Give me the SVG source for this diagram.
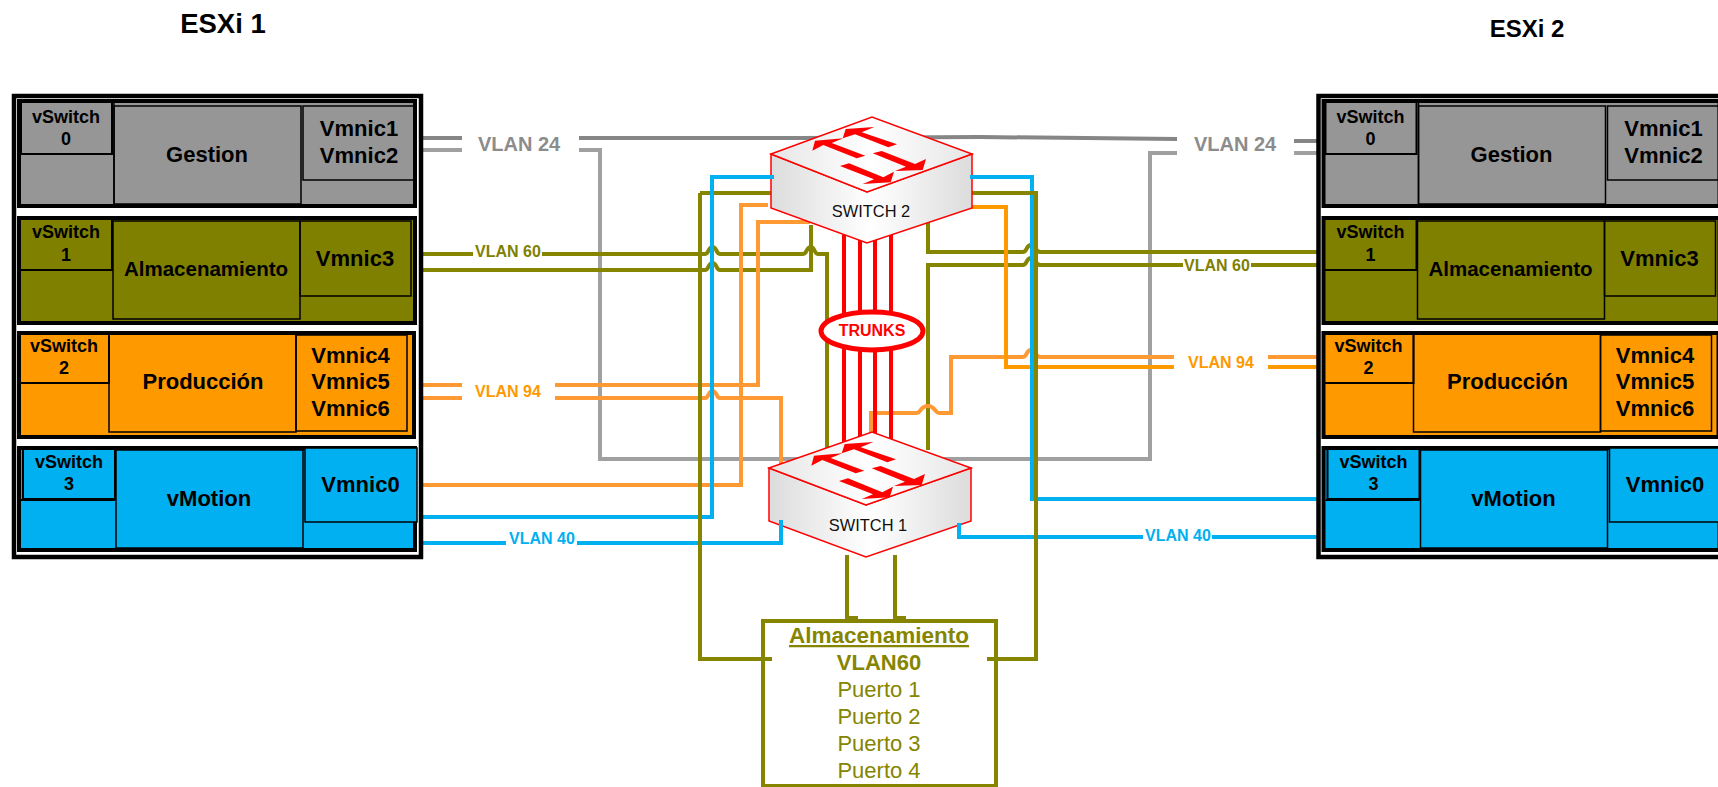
<svg xmlns="http://www.w3.org/2000/svg" width="1718" height="787" viewBox="0 0 1718 787">
<style>
text{font-family:"Liberation Sans",Arial,sans-serif;text-anchor:middle}
.b{font-weight:bold;fill:#000}
.vs{font-size:18px}
.t{font-size:22px}
.panel{fill:#fff;stroke:#000;stroke-width:4.5}
.row{stroke:#000;stroke-width:4}
.sub{stroke:#000;stroke-width:1.5;fill:none}
.vsb{stroke:#000;stroke-width:2;fill:none}
.gr{fill:#969696}.ol{fill:#808000}.or{fill:#ff9900}.bl{fill:#00b0f0}
.w{fill:none;stroke-width:4;stroke-linejoin:miter}
.g1{stroke:#868686}.g2{stroke:#a0a0a0}.o{stroke:#858500}.p1{stroke:#ff9933}.p2{stroke:#ff9900}.c{stroke:#00b0f0}.r{stroke:#ff0000}
.lb{font-weight:bold;font-size:16px}
.sw{fill:url(#body);stroke:#ff0000;stroke-width:1.5}
.swt{fill:url(#topg);stroke:#ff0000;stroke-width:1.5}
.swl{font-size:16.4px;fill:#111}
.st{fill:#858500}
</style>
<defs>
<linearGradient id="body" x1="0" x2="1" y1="0" y2="0"><stop offset="0" stop-color="#dcdcdc"/><stop offset=".5" stop-color="#ffffff"/><stop offset="1" stop-color="#dcdcdc"/></linearGradient>
<linearGradient id="topg" x1="0" x2="1" y1="0" y2="0"><stop offset="0" stop-color="#e6e6e6"/><stop offset=".5" stop-color="#ffffff"/><stop offset="1" stop-color="#e6e6e6"/></linearGradient>
<g id="arrows" fill="#ff0000">
<polygon points="845.700,129 874.300,127 861.700,132.300 897,144.300 888.300,147.300 855,134.300 842.700,138.300"/>
<polygon points="815,140.700 843.300,138.300 831.700,143 865.300,155.700 856.700,158.300 823.300,145 812.300,150.700"/>
<polygon points="872.700,153.300 881.700,151 915,164 926,159 922.700,170 895,171 906,166.700"/>
<polygon points="840,166 849,163.300 883.300,177.300 894,171.700 890.700,182.300 862.700,184 874,179.300"/>
</g>
</defs>

<g id="title-esxi1"><text class="b" x="223" y="33" font-size="27.5">ESXi 1</text></g>
<g id="title-esxi2"><text class="b" x="1527" y="37" font-size="24">ESXi 2</text></g>

<g id="connectors">
<g id="c-grey">
<path class="w g1" d="M423,138H462M579,138H800L980,137L1177,139M1294,141H1317"/>
<path class="w g2" d="M423,150H462M579,150H600V459H1150V153H1177M1294,153H1317"/>
</g>
<g id="c-olive">
<path class="w o" d="M423,254H473M542,254H705C709,254 708,247 712.5,247C717,247 716,254 720,254H803C807,254 806,247 811,247C815,247 814,254 818,254H827V450"/>
<path class="w o" d="M423,270H705C709,270 708,263 712.5,263C717,263 716,270 720,270H811V225"/>
<path class="w o" d="M928,222V252H1023C1027,252 1026,245 1031,245C1036,245 1035,252 1040,252H1317"/>
<path class="w o" d="M928,450V265H1023C1027,265 1026,258 1031,258C1036,258 1035,265 1040,265H1183M1251,265H1317"/>
<path class="w o" d="M700,193H772"/>
<path class="w o" d="M847,555V620M895,555V620M847,618H858M895,618H906"/>
</g>
<g id="c-orange">
<path class="w p1" d="M423,485H741V205H768"/>
<path class="w p1" d="M423,385H462M555,385H758V222H810"/>
<path class="w p1" d="M423,398H462M555,398H705C709,398 708,391 712.5,391C717,391 716,398 720,398H781V465"/>
<path class="w p1" d="M871,435V413H917C921,413 920,406 928,406C935,406 935,413 939,413H951V357H1023C1027,357 1026,350 1031,350C1036,350 1035,357 1040,357H1174M1268,357H1317"/>
<path class="w p2" d="M972,207H1006V367H1174M1268,367H1317"/>
</g>
<g id="c-blue">
<path class="w c" d="M423,517H712V177H772"/>
<path class="w c" d="M972,177H1032V499H1317"/>
<path class="w c" d="M423,543H506M577,543H781V535"/>
<path class="w c" d="M959,535V537H1143M1212,537H1317"/>
</g>
<g id="c-olive-over">
<path class="w o" d="M700,193V659H772"/>
<path class="w o" d="M972,193H1036V659H987"/>
</g>
<g id="c-trunks">
<path class="w r" d="M844,235V445M860,235V445M875,235V445M891,235V445"/>
</g>
<g id="c-labels">
<text class="lb" x="519" y="151" style="font-size:20px" fill="#8c8c8c">VLAN 24</text>
<text class="lb" x="1235" y="151" style="font-size:20px" fill="#8c8c8c">VLAN 24</text>
<text class="lb" x="508" y="257" fill="#808000">VLAN 60</text>
<text class="lb" x="1217" y="271" fill="#808000">VLAN 60</text>
<text class="lb" x="508" y="397" fill="#ff9900">VLAN 94</text>
<text class="lb" x="1221" y="368" fill="#ff9900">VLAN 94</text>
<text class="lb" x="542" y="544" fill="#00b0f0">VLAN 40</text>
<text class="lb" x="1178" y="541" fill="#00b0f0">VLAN 40</text>
</g>
</g>

<g id="trunks">
<ellipse cx="872" cy="331" rx="51" ry="19" fill="#fff" stroke="#ff0000" stroke-width="5"/>
<text class="lb" x="872" y="336" fill="#ff0000">TRUNKS</text>
</g>

<g id="switch2">
<polygon class="sw" points="771,154 771,208 867,243 972,208 972,154 867,192"/>
<polygon class="swt" points="771,154 872,117 972,154 867,192"/>
<use href="#arrows"/>
<text class="swl" x="871" y="217">SWITCH 2</text>
</g>
<g id="switch1">
<polygon class="sw" points="769,468 769,521 866,557 971,521 971,468 866,505"/>
<polygon class="swt" points="769,468 872,432 971,468 866,505"/>
<use href="#arrows" transform="translate(-1,315)"/>
<text class="swl" x="868" y="531">SWITCH 1</text>
</g>

<g id="connectors-over-switches">
<path class="w c" d="M781,535V520M959,535V523"/>
<path class="w c" d="M764,177H774M970,177H980"/>
</g>

<g id="storage">
<rect x="763" y="621" width="233" height="165" fill="none" stroke="#858500" stroke-width="4"/>
<text class="st" x="879" y="643" font-size="22.5" font-weight="bold" text-decoration="underline">Almacenamiento</text>
<text class="st" x="879" y="670" font-size="22" font-weight="bold">VLAN60</text>
<text class="st" x="879" y="697" font-size="22">Puerto 1</text>
<text class="st" x="879" y="724" font-size="22">Puerto 2</text>
<text class="st" x="879" y="751" font-size="22">Puerto 3</text>
<text class="st" x="879" y="778" font-size="22">Puerto 4</text>
</g>

<g id="esxi1">
<rect class="panel" x="14" y="96" width="407" height="461"/>
<g id="esxi1-gestion">
<rect class="row gr" x="19" y="101" width="396" height="105"/>
<rect class="vsb" x="21" y="101" width="91" height="53"/>
<rect class="sub" x="114" y="106" width="187" height="98"/>
<path class="sub" d="M114,101V206M301,204V206"/>
<rect class="sub" x="303" y="106" width="111" height="74"/>
<text class="b vs" x="66" y="123">vSwitch</text><text class="b vs" x="66" y="145">0</text>
<text class="b t" x="207" y="162">Gestion</text>
<text class="b t" x="359" y="136">Vmnic1</text><text class="b t" x="359" y="163">Vmnic2</text>
</g>
<g id="esxi1-almacenamiento">
<rect class="row ol" x="19" y="218" width="396" height="105"/>
<path class="vsb" d="M20,270H112V219"/>
<rect class="sub" x="113" y="221" width="187" height="98"/>
<rect class="sub" x="300" y="221" width="111" height="75"/>
<text class="b vs" x="66" y="238">vSwitch</text><text class="b vs" x="66" y="261">1</text>
<text class="b" x="206" y="276" font-size="20.5">Almacenamiento</text>
<text class="b t" x="355" y="266">Vmnic3</text>
</g>
<g id="esxi1-produccion">
<rect class="row or" x="19" y="333" width="395" height="104"/>
<path class="vsb" d="M20,383H109V334"/>
<rect class="sub" x="109" y="334" width="187" height="98"/>
<rect class="sub" x="296" y="335" width="111" height="96"/>
<text class="b vs" x="64" y="352">vSwitch</text><text class="b vs" x="64" y="374">2</text>
<text class="b t" x="203" y="389">Producción</text>
<text class="b t" x="350.500" y="363">Vmnic4</text><text class="b t" x="350.500" y="389">Vmnic5</text><text class="b t" x="350.500" y="416">Vmnic6</text>
</g>
<g id="esxi1-vmotion">
<rect class="row bl" x="19" y="448" width="396" height="102"/>
<path class="vsb" d="M23,448V499H115V448"/>
<path class="vsb" d="M21,500H115"/>
<rect class="sub" x="116" y="450" width="187" height="98"/>
<rect class="sub bl" x="305" y="448" width="112" height="74"/>
<text class="b vs" x="69" y="468">vSwitch</text><text class="b vs" x="69" y="490">3</text>
<text class="b t" x="209" y="506">vMotion</text>
<text class="b t" x="360.500" y="492">Vmnic0</text>
</g>
</g>

<g id="esxi2" transform="translate(1304.500,0)">
<rect class="panel" x="14" y="96" width="407" height="461"/>
<g id="esxi2-gestion">
<rect class="row gr" x="19" y="101" width="396" height="105"/>
<rect class="vsb" x="21" y="101" width="91" height="53"/>
<rect class="sub" x="114" y="106" width="187" height="98"/>
<path class="sub" d="M114,101V206M301,204V206"/>
<rect class="sub" x="303" y="106" width="111" height="74"/>
<text class="b vs" x="66" y="123">vSwitch</text><text class="b vs" x="66" y="145">0</text>
<text class="b t" x="207" y="162">Gestion</text>
<text class="b t" x="359" y="136">Vmnic1</text><text class="b t" x="359" y="163">Vmnic2</text>
</g>
<g id="esxi2-almacenamiento">
<rect class="row ol" x="19" y="218" width="396" height="105"/>
<path class="vsb" d="M20,270H112V219"/>
<rect class="sub" x="113" y="221" width="187" height="98"/>
<rect class="sub" x="300" y="221" width="111" height="75"/>
<text class="b vs" x="66" y="238">vSwitch</text><text class="b vs" x="66" y="261">1</text>
<text class="b" x="206" y="276" font-size="20.5">Almacenamiento</text>
<text class="b t" x="355" y="266">Vmnic3</text>
</g>
<g id="esxi2-produccion">
<rect class="row or" x="19" y="333" width="395" height="104"/>
<path class="vsb" d="M20,383H109V334"/>
<rect class="sub" x="109" y="334" width="187" height="98"/>
<rect class="sub" x="296" y="335" width="111" height="96"/>
<text class="b vs" x="64" y="352">vSwitch</text><text class="b vs" x="64" y="374">2</text>
<text class="b t" x="203" y="389">Producción</text>
<text class="b t" x="350.500" y="363">Vmnic4</text><text class="b t" x="350.500" y="389">Vmnic5</text><text class="b t" x="350.500" y="416">Vmnic6</text>
</g>
<g id="esxi2-vmotion">
<rect class="row bl" x="19" y="448" width="396" height="102"/>
<path class="vsb" d="M23,448V499H115V448"/>
<path class="vsb" d="M21,500H115"/>
<rect class="sub" x="116" y="450" width="187" height="98"/>
<rect class="sub bl" x="305" y="448" width="112" height="74"/>
<text class="b vs" x="69" y="468">vSwitch</text><text class="b vs" x="69" y="490">3</text>
<text class="b t" x="209" y="506">vMotion</text>
<text class="b t" x="360.500" y="492">Vmnic0</text>
</g>
</g>
</svg>
